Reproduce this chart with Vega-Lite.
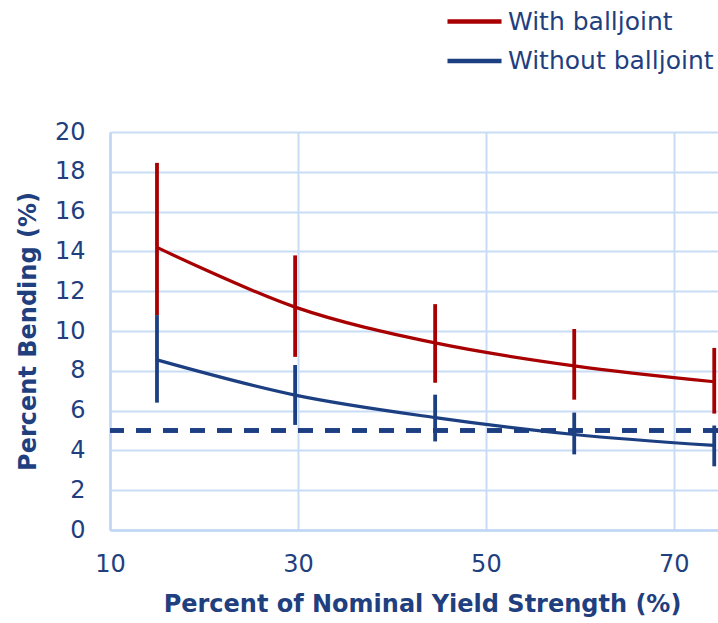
{
  "$schema": "https://vega.github.io/schema/vega-lite/v6.json",
  "width": 608,
  "height": 398,
  "autosize": {"type": "none"},
  "padding": {"left": 110, "top": 132, "right": 0, "bottom": 93},
  "background": "white",
  "config": {
    "view": {"stroke": null},
    "font": "DejaVu Sans",
    "axis": {
      "labelFont": "DejaVu Sans",
      "labelFontSize": 24,
      "labelColor": "#1f3f7f",
      "titleFont": "DejaVu Sans",
      "titleFontSize": 24,
      "titleFontWeight": "bold",
      "titleColor": "#1f3f7f",
      "ticks": false,
      "grid": true,
      "labelOverlap": false,
      "labelFlush": false,
      "gridColor": "#c9dcf5",
      "gridWidth": 2,
      "domainColor": "#c0d6f5",
      "domainWidth": 2.5
    }
  },
  "data": {
    "values": [
      {"series": "With balljoint", "x": 15, "y": 14.2, "lo": 10.8, "hi": 18.45},
      {"series": "With balljoint", "x": 29.7, "y": 11.2, "lo": 8.7, "hi": 13.8},
      {"series": "With balljoint", "x": 44.6, "y": 9.4, "lo": 7.4, "hi": 11.35},
      {"series": "With balljoint", "x": 59.4, "y": 8.25, "lo": 6.55, "hi": 10.1},
      {"series": "With balljoint", "x": 74.3, "y": 7.45, "lo": 5.85, "hi": 9.15},
      {"series": "Without balljoint", "x": 15, "y": 8.55, "lo": 6.4, "hi": 10.8},
      {"series": "Without balljoint", "x": 29.7, "y": 6.78, "lo": 5.28, "hi": 8.29},
      {"series": "Without balljoint", "x": 44.6, "y": 5.65, "lo": 4.45, "hi": 6.8},
      {"series": "Without balljoint", "x": 59.4, "y": 4.8, "lo": 3.8, "hi": 5.9},
      {"series": "Without balljoint", "x": 74.3, "y": 4.25, "lo": 3.2, "hi": 5.25}
    ]
  },
  "encoding": {
    "x": {
      "field": "x",
      "type": "quantitative",
      "scale": {"domain": [10, 74.7], "nice": false, "zero": false},
      "axis": {
        "values": [10, 30, 50, 70],
        "title": "Percent of Nominal Yield Strength (%)",
        "labelPadding": 22,
        "titleX": 312,
        "titleY": 62,
        "titleBaseline": "top"
      }
    },
    "y": {
      "field": "y",
      "type": "quantitative",
      "scale": {"domain": [0, 20], "nice": false},
      "axis": {
        "values": [0, 2, 4, 6, 8, 10, 12, 14, 16, 18, 20],
        "title": "Percent Bending (%)",
        "labelPadding": 25,
        "titlePadding": 14
      }
    },
    "color": {
      "field": "series",
      "type": "nominal",
      "scale": {"domain": ["With balljoint", "Without balljoint"], "range": ["#a80000", "#1c3f82"]},
      "legend": null
    }
  },
  "layer": [
    {
      "mark": {"type": "rule", "strokeWidth": 3.5, "strokeDash": [15, 12], "color": "#1c3f82"},
      "encoding": {
        "x": null,
        "color": null,
        "y": {"datum": 5, "type": "quantitative"}
      }
    },
    {
      "mark": {"type": "line", "strokeWidth": 3.2, "interpolate": "cardinal"},
      "encoding": {
        "color": {
          "field": "series",
          "type": "nominal",
          "legend": {
            "title": null,
            "orient": "none",
            "legendX": 351,
            "legendY": -124,
            "padding": 0,
            "symbolType": "M-2.5,0H2.5",
            "symbolSize": 467,
            "symbolStrokeWidth": 4.5,
            "labelOffset": 20,
            "rowPadding": 12.6,
            "labelFont": "DejaVu Sans",
            "labelFontSize": 25,
            "labelColor": "#1f3f7f",
            "labelLimit": 400
          }
        }
      }
    },
    {
      "mark": {"type": "rule", "strokeWidth": 3.8},
      "encoding": {
        "y": {"field": "lo", "type": "quantitative"},
        "y2": {"field": "hi"}
      }
    }
  ]
}
